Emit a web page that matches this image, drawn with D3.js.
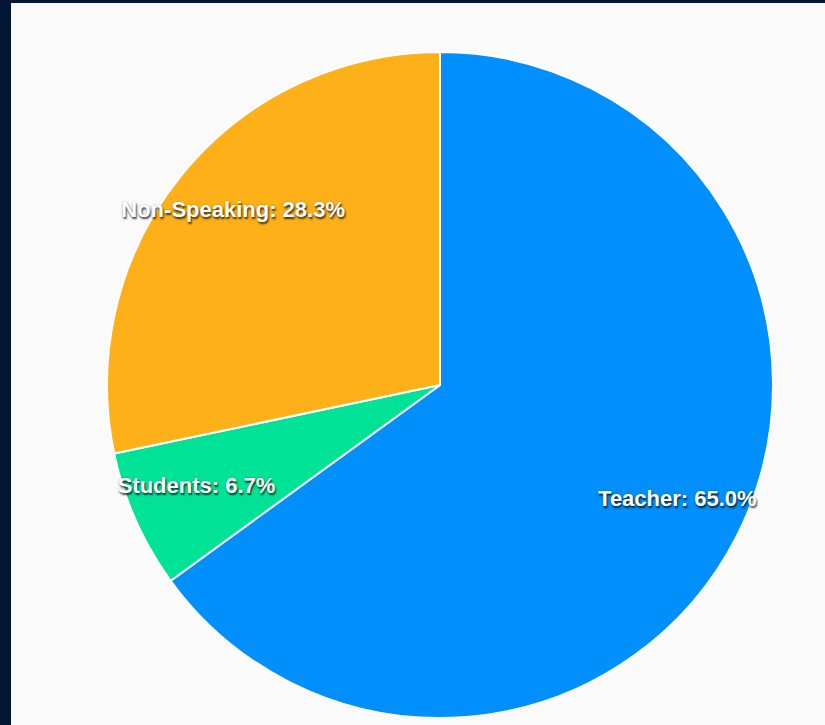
<!DOCTYPE html>
<html>
<head>
<meta charset="utf-8">
<script src="https://cdn.jsdelivr.net/npm/d3@7"></script>
<style>
  html, body { margin: 0; padding: 0; background: #011733; }
  #chart { position: absolute; left: 11px; top: 3px; width: 814px; height: 722px; background: #fafafa; }
  .slice-label {
    font-family: "Liberation Sans", Arial, sans-serif;
    font-weight: bold;
    font-size: 22px;
    fill: #ffffff;
    text-shadow: 1px 2px 2px rgba(0, 0, 0, 0.7), 0 0 2px rgba(0, 0, 0, 0.3);
  }
</style>
</head>
<body>
<div id="chart"></div>
<script>
// slice data (share of speaking time)
let categories = ["Teacher", "Students", "Non-Speaking"];
let values = [65.0, 6.7, 28.3];
let colors = ["#008ffb", "#00e396", "#feb019"];

let data = categories.map((c, i) => ({name: c, value: values[i]}));

let width = 814, height = 722;
let radius = 333;
let cx = 429, cy = 382; // centre inside the panel

let svg = d3.select("#chart")
    .append("svg")
    .attr("width", width)
    .attr("height", height)
    .append("g")
    .attr("transform", "translate(" + cx + "," + cy + ")");

let color = d3.scaleOrdinal()
    .domain(categories)
    .range(colors);

let pie = d3.pie()
    .sort(null)
    .value(d => d.value);

let arc = d3.arc()
    .innerRadius(0)
    .outerRadius(radius);

// labels sit at ~80% of the radius
let labelArc = d3.arc()
    .innerRadius(radius * 0.8)
    .outerRadius(radius * 0.8);

let arcs = pie(data);

svg.selectAll(".slice")
    .data(arcs)
    .enter()
    .append("path")
    .attr("class", "slice")
    .attr("d", arc)
    .style("fill", d => color(d.data.name))
    .style("stroke", "#ffffff")
    .style("stroke-width", "2px");

svg.selectAll(".slice-label")
    .data(arcs)
    .enter()
    .append("text")
    .attr("class", "slice-label")
    .attr("transform", d => "translate(" + labelArc.centroid(d) + ")")
    .attr("text-anchor", "middle")
    .text(d => d.data.name + ": " + d.data.value.toFixed(1) + "%");
</script>
</body>
</html>
